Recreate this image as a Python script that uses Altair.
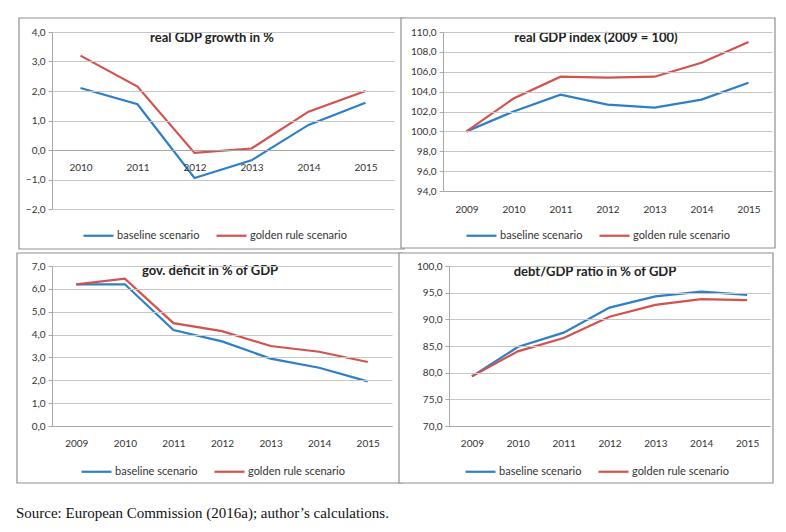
import altair as alt
import pandas as pd

years_a = ["2010", "2011", "2012", "2013", "2014", "2015"]
years_b = ["2009", "2010", "2011", "2012", "2013", "2014", "2015"]

growth_base = [2.1, 1.55, -0.95, -0.35, 0.85, 1.6]
growth_gold = [3.2, 2.15, -0.1, 0.05, 1.3, 2.0]

index_base = [100.0, 102.0, 103.7, 102.7, 102.4, 103.2, 104.9]
index_gold = [100.0, 103.3, 105.5, 105.4, 105.5, 106.9, 109.0]

deficit_base = [6.2, 6.2, 4.2, 3.7, 2.95, 2.55, 1.95]
deficit_gold = [6.2, 6.45, 4.5, 4.15, 3.5, 3.25, 2.8]

debt_base = [79.3, 84.8, 87.5, 92.2, 94.3, 95.2, 94.6]
debt_gold = [79.3, 84.0, 86.5, 90.5, 92.7, 93.8, 93.6]

series_names = ["baseline scenario", "golden rule scenario"]
colors = ["#2E7FC8", "#D2524E"]
FONT = "Lato"
TXT = "#333333"


def frame(years, base, gold):
    rows = []
    for y, v in zip(years, base):
        rows.append({"year": y, "value": v, "scenario": series_names[0]})
    for y, v in zip(years, gold):
        rows.append({"year": y, "value": v, "scenario": series_names[1]})
    return pd.DataFrame(rows)


def panel(years, base, gold, title, ymin, ymax, step, w, h, box, title_pos, legend_pos,
          x_offset=0, x_pad=13):
    df = frame(years, base, gold)
    label_expr = "replace(format(datum.value, '.1f'), '.', ',')"
    nticks = int(round((ymax - ymin) / step)) + 1
    ticks = [round(ymin + i * step, 1) for i in range(nticks)]

    border = alt.Chart(pd.DataFrame({"b": [0]})).mark_rect(
        fill="white", stroke="#8f8f8f", strokeWidth=1.2, clip=False
    ).encode(x=alt.value(box[0]), x2=alt.value(box[1]),
             y=alt.value(box[2]), y2=alt.value(box[3]))

    lines = alt.Chart(df).mark_line(strokeWidth=2.2).encode(
        x=alt.X("year:O", sort=years, title=None,
                axis=alt.Axis(labelAngle=0, ticks=False, domain=True, zindex=1,
                              domainColor="#a8a8a8", offset=x_offset,
                              labelPadding=x_pad, labelFontSize=10,
                              labelFont=FONT, labelColor=TXT)),
        y=alt.Y("value:Q", title=None,
                scale=alt.Scale(domain=[ymin, ymax], nice=False, zero=False),
                axis=alt.Axis(values=ticks, labelExpr=label_expr, grid=True, zindex=1,
                              gridColor="#c6c6c6", domainColor="#a8a8a8",
                              ticks=True, tickSize=4, tickColor="#a8a8a8",
                              labelFontSize=10, labelFont=FONT, labelColor=TXT,
                              labelPadding=3)),
        color=alt.Color("scenario:N",
                        scale=alt.Scale(domain=series_names, range=colors),
                        legend=alt.Legend(title=None, orient="none",
                                          legendX=legend_pos[0], legendY=legend_pos[1],
                                          direction="horizontal", zindex=2,
                                          symbolType="stroke", symbolSize=900,
                                          symbolStrokeWidth=2.2, labelFontSize=11,
                                          labelFont=FONT, labelColor=TXT,
                                          labelOffset=2, columnPadding=12)),
    )
    ttl = alt.Chart(pd.DataFrame({"t": [title]})).mark_text(
        fontWeight="bold", fontSize=13, font=FONT, color="#222", baseline="middle"
    ).encode(text="t:N", x=alt.value(title_pos[0]), y=alt.value(title_pos[1]))
    return alt.layer(border, lines, ttl).properties(width=w, height=h)


p1 = panel(years_a, growth_base, growth_gold, "real GDP growth in %", -2.0, 4.0, 1.0,
           342, 177, box=(-33, 352, -14, 217), title_pos=(160, 6),
           legend_pos=(30, 187), x_offset=-59, x_pad=12)
p2 = panel(years_b, index_base, index_gold, "real GDP index (2009 = 100)", 94.0, 110.0, 2.0,
           329, 159, box=(-42, 332, -14, 216), title_pos=(153, 6),
           legend_pos=(22, 187), x_pad=13)
p3 = panel(years_b, deficit_base, deficit_gold, "gov. deficit in % of GDP", 0.0, 7.0, 1.0,
           340, 160, box=(-35, 350, -13, 217), title_pos=(158, 5),
           legend_pos=(28, 189), x_pad=12)
p4 = panel(years_b, debt_base, debt_gold, "debt/GDP ratio in % of GDP", 70.0, 100.0, 5.0,
           321, 160, box=(-50, 324, -13, 217), title_pos=(146, 6),
           legend_pos=(15, 189), x_pad=12)

row1 = alt.hconcat(p1, p2, spacing=-7).resolve_scale(color="independent").resolve_legend(color="independent")
row2 = alt.hconcat(p3, p4, spacing=-7).resolve_scale(color="independent").resolve_legend(color="independent")

chart = alt.vconcat(row1, row2, spacing=0).resolve_scale(color="independent").resolve_legend(
    color="independent"
).properties(
    title=alt.TitleParams("Source: European Commission (2016a); author\u2019s calculations.",
                          orient="bottom", anchor="start", font="Liberation Serif",
                          fontSize=15, fontWeight="normal", color="#111", offset=22),
    padding={"left": 7, "top": 8, "right": 0, "bottom": 0},
).configure_view(stroke=None).configure(background="white")

chart.save("out.html", embed_options={"renderer": "svg", "actions": False})
